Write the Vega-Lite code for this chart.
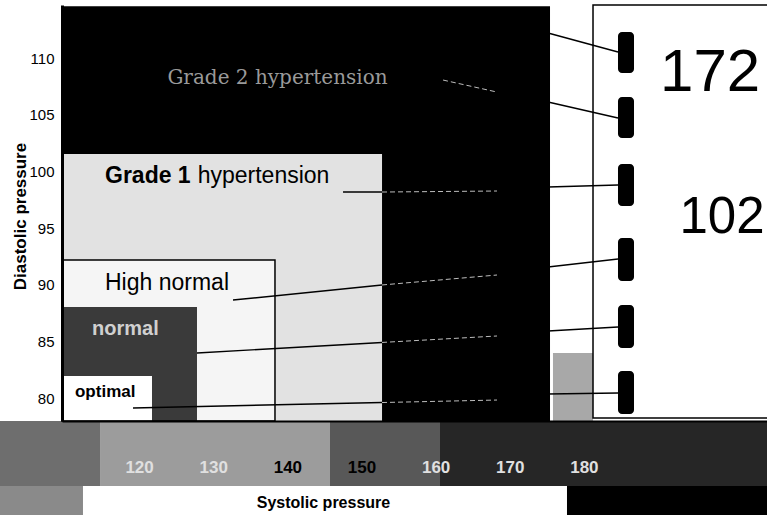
{
  "$schema": "https://vega.github.io/schema/vega-lite/v6.json",
  "width": 705,
  "height": 416,
  "autosize": {"type": "none"},
  "padding": {"left": 62, "top": 5, "right": 0, "bottom": 94},
  "background": "white",
  "view": {"stroke": null},
  "datasets": {
    "regions": [
      {"kind": "bandA", "x": 100, "x2": 114.73, "y": 72.27, "y2": 78},
      {"kind": "bandB", "x": 114.73, "x2": 145.75, "y": 72.27, "y2": 78},
      {"kind": "bandC", "x": 145.75, "x2": 160.59, "y": 72.27, "y2": 78},
      {"kind": "bandD", "x": 160.59, "x2": 206, "y": 72.27, "y2": 78},
      {"kind": "bottomLeft", "x": 100, "x2": 112.43, "y": 69, "y2": 72.27},
      {"kind": "bottomRight", "x": 177.72, "x2": 206, "y": 69, "y2": 72.27},
      {"kind": "speckle", "x": 175.83, "x2": 181.23, "y": 78, "y2": 84.0},
      {"kind": "panel", "x": 181.23, "x2": 206, "y": 78.26, "y2": 114.7},
      {"kind": "Grade 2 hypertension", "x": 109.6, "x2": 175.43, "y": 78, "y2": 114.6},
      {"kind": "Grade 1 hypertension", "x": 109.6, "x2": 152.77, "y": 78, "y2": 101.56},
      {"kind": "High normal", "x": 109.6, "x2": 138.33, "y": 78, "y2": 92.2},
      {"kind": "normal", "x": 109.6, "x2": 127.81, "y": 78, "y2": 88.06},
      {"kind": "optimal", "x": 109.6, "x2": 121.74, "y": 78, "y2": 81.97}
    ],
    "dashes": [
      {"x": 184.6, "x2": 186.76, "y": 108.7, "y2": 112.32},
      {"x": 184.6, "x2": 186.76, "y": 102.97, "y2": 106.58},
      {"x": 184.6, "x2": 186.76, "y": 96.97, "y2": 100.67},
      {"x": 184.6, "x2": 186.76, "y": 90.35, "y2": 94.14},
      {"x": 184.6, "x2": 186.76, "y": 84.44, "y2": 88.23},
      {"x": 184.6, "x2": 186.76, "y": 78.62, "y2": 82.41}
    ],
    "leaders": [
      {"x": 175.16, "x2": 184.6, "y": 112.23, "y2": 110.55},
      {"x": 175.16, "x2": 184.6, "y": 106.14, "y2": 104.73},
      {"x": 175.16, "x2": 184.6, "y": 98.64, "y2": 98.82},
      {"x": 175.16, "x2": 184.6, "y": 91.59, "y2": 92.29},
      {"x": 175.16, "x2": 184.6, "y": 85.94, "y2": 86.29},
      {"x": 175.16, "x2": 184.6, "y": 80.38, "y2": 80.47},
      {"x": 147.51, "x2": 152.77, "y": 98.2, "y2": 98.2},
      {"x": 132.67, "x2": 152.77, "y": 88.67, "y2": 90.0},
      {"x": 127.81, "x2": 152.77, "y": 84.0, "y2": 84.93},
      {"x": 119.18, "x2": 152.77, "y": 79.15, "y2": 79.63}
    ],
    "leadersOverBlack": [
      {"x": 161.0, "x2": 168.28, "y": 108.08, "y2": 107.02},
      {"x": 152.77, "x2": 168.28, "y": 98.2, "y2": 98.29},
      {"x": 152.77, "x2": 168.28, "y": 90.0, "y2": 90.88},
      {"x": 152.77, "x2": 168.28, "y": 84.93, "y2": 85.5},
      {"x": 152.77, "x2": 168.28, "y": 79.63, "y2": 79.85}
    ],
    "textSerif": [{"label": "Grade 2 hypertension", "x": 138.67, "y": 107.73}],
    "textBold23": [{"label": "Grade 1", "x": 115.4, "y": 99.0}],
    "textRegular23": [
      {"label": "hypertension", "x": 127.9, "y": 99.0},
      {"label": "High normal", "x": 115.4, "y": 89.56}
    ],
    "textNormal": [{"label": "normal", "x": 113.65, "y": 85.59}],
    "textOptimal": [{"label": "optimal", "x": 111.35, "y": 80.12}],
    "textBig1": [{"label": "172", "x": 190.27, "y": 107.11}],
    "textBig2": [{"label": "102", "x": 192.89, "y": 94.59}]
  },
  "encoding": {
    "x": {
      "field": "x",
      "type": "quantitative",
      "title": "Systolic pressure",
      "scale": {"domain": [109.6, 204.7], "nice": false, "zero": false},
      "axis": {
        "title": "Systolic pressure",
        "values": [120, 130, 140, 150, 160, 170, 180],
        "grid": false,
        "ticks": false,
        "tickSize": 0,
        "labelPadding": 38,
        "labelFlush": false,
        "labelFont": "Liberation Sans",
        "labelFontSize": 17,
        "labelFontWeight": "bold",
        "labelColor": {"condition": {"test": "datum.value == 140 || datum.value == 150", "value": "black"}, "value": "#e0e0e0"},
        "domain": true,
        "domainColor": "black",
        "domainWidth": 2,
        "titleFont": "Liberation Sans",
        "titleFontSize": 16,
        "titleFontWeight": "bold",
        "titleColor": "black",
        "titleX": 261,
        "titleY": 86,
        "titleBaseline": "alphabetic",
        "titleAlign": "center",
        "zindex": 1
      }
    },
    "y": {
      "field": "y",
      "type": "quantitative",
      "title": "Diastolic pressure",
      "scale": {"domain": [78, 114.7], "nice": false, "zero": false},
      "axis": {
        "title": "Diastolic pressure",
        "values": [80, 85, 90, 95, 100, 105, 110],
        "grid": false,
        "ticks": false,
        "tickSize": 0,
        "labelPadding": 8,
        "labelFont": "Liberation Sans",
        "labelFontSize": 15,
        "labelColor": "black",
        "domain": true,
        "domainColor": "black",
        "domainWidth": 3,
        "titleFont": "Liberation Sans",
        "titleFontSize": 17,
        "titleFontWeight": "bold",
        "titleColor": "black",
        "titleAngle": -90,
        "titleX": -37,
        "titleY": 211,
        "titleBaseline": "alphabetic",
        "titleAlign": "center",
        "zindex": 1
      }
    }
  },
  "layer": [
    {
      "data": {"name": "regions"},
      "mark": {"type": "rect", "stroke": null},
      "encoding": {
        "x2": {"field": "x2"},
        "y2": {"field": "y2"},
        "color": {
          "field": "kind",
          "type": "nominal",
          "legend": null,
          "scale": {
            "domain": ["bandA", "bandB", "bandC", "bandD", "bottomLeft", "bottomRight", "speckle", "panel", "Grade 2 hypertension", "Grade 1 hypertension", "High normal", "normal", "optimal"],
            "range": ["#6e6e6e", "#9c9c9c", "#585858", "#262626", "#8a8a8a", "#000000", "#a8a8a8", "#ffffff", "#000000", "#e2e2e2", "#f5f5f5", "#3a3a3a", "#ffffff"]
          }
        }
      }
    },
    {
      "data": {"name": "regions"},
      "transform": [{"filter": "datum.kind == 'panel' || datum.kind == 'High normal'"}],
      "mark": {"type": "rect", "fill": "transparent", "stroke": "black", "strokeWidth": 1.5},
      "encoding": {"x2": {"field": "x2"}, "y2": {"field": "y2"}}
    },
    {
      "data": {"name": "leaders"},
      "mark": {"type": "rule", "color": "black", "strokeWidth": 1.4},
      "encoding": {"x2": {"field": "x2"}, "y2": {"field": "y2"}}
    },
    {
      "data": {"name": "leadersOverBlack"},
      "mark": {"type": "rule", "color": "#bdbdbd", "strokeWidth": 1, "strokeDash": [5, 3]},
      "encoding": {"x2": {"field": "x2"}, "y2": {"field": "y2"}}
    },
    {
      "data": {"name": "dashes"},
      "mark": {"type": "rect", "color": "black", "cornerRadius": 4},
      "encoding": {"x2": {"field": "x2"}, "y2": {"field": "y2"}}
    },
    {
      "data": {"name": "textSerif"},
      "mark": {"type": "text", "font": "DejaVu Serif", "fontSize": 20, "color": "#9a9a9a", "align": "center", "baseline": "alphabetic"},
      "encoding": {"text": {"field": "label"}}
    },
    {
      "data": {"name": "textBold23"},
      "mark": {"type": "text", "font": "Liberation Sans", "fontSize": 23, "fontWeight": "bold", "color": "black", "align": "left", "baseline": "alphabetic"},
      "encoding": {"text": {"field": "label"}}
    },
    {
      "data": {"name": "textRegular23"},
      "mark": {"type": "text", "font": "Liberation Sans", "fontSize": 23, "color": "black", "align": "left", "baseline": "alphabetic"},
      "encoding": {"text": {"field": "label"}}
    },
    {
      "data": {"name": "textNormal"},
      "mark": {"type": "text", "font": "Liberation Sans", "fontSize": 20, "fontWeight": "bold", "color": "#d0d0d0", "align": "left", "baseline": "alphabetic"},
      "encoding": {"text": {"field": "label"}}
    },
    {
      "data": {"name": "textOptimal"},
      "mark": {"type": "text", "font": "Liberation Sans", "fontSize": 17, "fontWeight": "bold", "color": "black", "align": "left", "baseline": "alphabetic"},
      "encoding": {"text": {"field": "label"}}
    },
    {
      "data": {"name": "textBig1"},
      "mark": {"type": "text", "font": "Liberation Sans", "fontSize": 60, "color": "black", "align": "left", "baseline": "alphabetic"},
      "encoding": {"text": {"field": "label"}}
    },
    {
      "data": {"name": "textBig2"},
      "mark": {"type": "text", "font": "Liberation Sans", "fontSize": 51, "color": "black", "align": "left", "baseline": "alphabetic"},
      "encoding": {"text": {"field": "label"}}
    }
  ]
}
